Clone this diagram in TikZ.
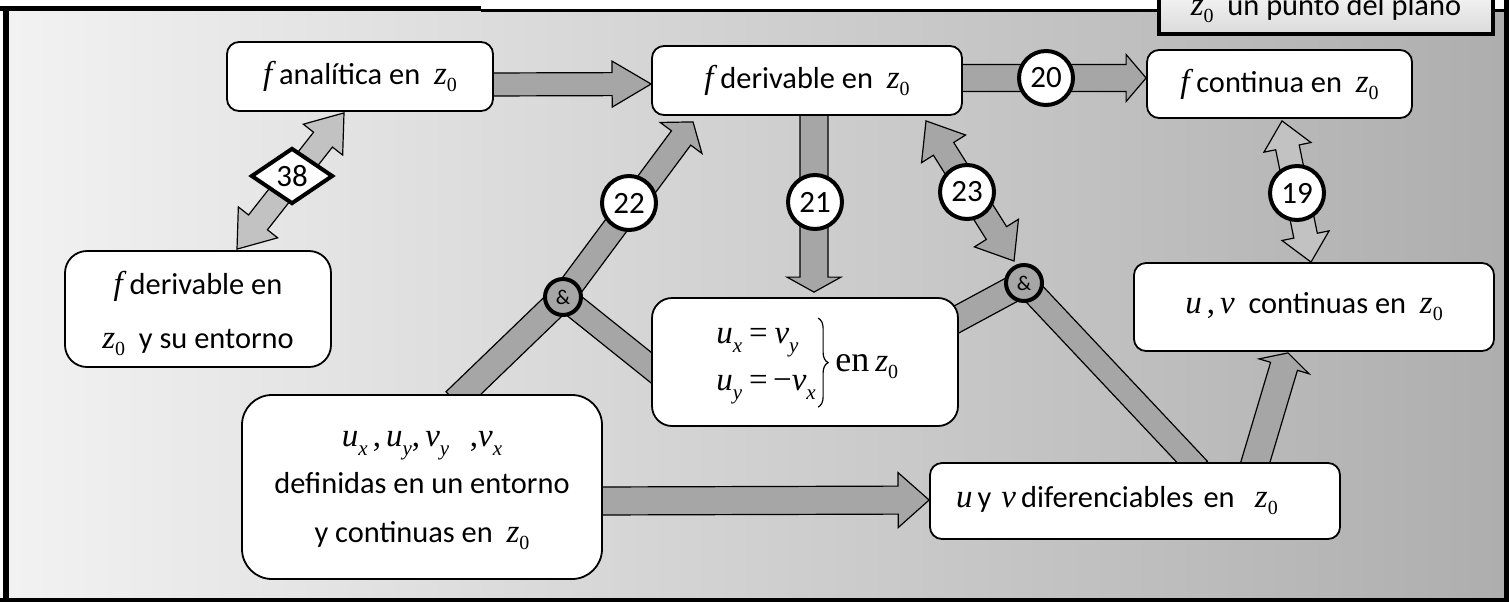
\documentclass[tikz,border=0pt]{standalone}
\usepackage{fontspec}
\setmainfont{Carlito}
\newfontfamily\tnr{Liberation Serif}
\usetikzlibrary{calc,shapes.geometric,decorations.pathreplacing}
\pgfdeclarelayer{bgl}
\pgfdeclarelayer{arl}
\pgfsetlayers{bgl,arl,main}
\definecolor{arrgray}{HTML}{A6A6A6}
\definecolor{arrlight}{HTML}{C2C2C2}
\definecolor{bgleft}{HTML}{F2F2F2}
\definecolor{bgright}{HTML}{AEAEAE}
\definecolor{legtop}{HTML}{FAFAFA}
\definecolor{legbot}{HTML}{DADADA}
\newcommand\mi[1]{{\tnr\itshape\fontsize{16.5}{18}\selectfont #1}}
\newcommand\tm[1]{{\tnr\fontsize{16.5}{18}\selectfont #1}}
\newcommand\sbz[1]{\raisebox{-3.5pt}{\tnr\fontsize{10}{11}\selectfont #1}}
\newcommand\sbu[1]{\raisebox{-4.5pt}{\tnr\itshape\fontsize{10.5}{11}\selectfont #1}}
\newcommand\zo{\mi{z}\sbz{0}}
% single block arrow: from, to, half shaft, half head, head length, fill
\newcommand\barr[6]{%
  \coordinate (bh) at ($(#2)!#5!(#1)$);
  \draw[blockline, fill=#6] ($(#1)!#3!90:(#2)$) -- ($(bh)!#3!90:(#2)$) -- ($(bh)!#4!90:(#2)$) -- (#2)
    -- ($(bh)!#4!-90:(#2)$) -- ($(bh)!#3!-90:(#2)$) -- ($(#1)!#3!-90:(#2)$) -- cycle;}
% double block arrow
\newcommand\darr[6]{%
  \coordinate (dha) at ($(#1)!#5!(#2)$);
  \coordinate (dhb) at ($(#2)!#5!(#1)$);
  \draw[blockline, fill=#6] (#1) -- ($(dha)!#4!90:(#2)$) -- ($(dha)!#3!90:(#2)$) -- ($(dhb)!#3!90:(#2)$)
    -- ($(dhb)!#4!90:(#2)$) -- (#2) -- ($(dhb)!#4!-90:(#2)$) -- ($(dhb)!#3!-90:(#2)$)
    -- ($(dha)!#3!-90:(#2)$) -- ($(dha)!#4!-90:(#2)$) -- cycle;}
% shaft only
\newcommand\sarr[4]{%
  \draw[blockline, fill=#4] ($(#1)!#3!90:(#2)$) -- ($(#2)!#3!-90:(#1)$) -- ($(#2)!#3!90:(#1)$) -- ($(#1)!#3!-90:(#2)$) -- cycle;}
\tikzset{
  blockline/.style={draw=black, line width=0.6pt, line join=miter},
  box/.style={draw, line width=0.9pt, fill=white, rounded corners=6pt, inner sep=0pt, align=center, font=\fontsize{15.2}{18}\selectfont},
  num/.style={circle, draw, line width=2pt, fill=white, minimum size=27pt, inner sep=0pt, font=\fontsize{15.5}{18}\selectfont},
  andnode/.style={circle, draw, line width=2pt, fill=arrgray, minimum size=18pt, inner sep=0pt, font=\fontsize{10.5}{12}\selectfont},
  dia/.style={diamond, draw, line width=2pt, fill=white, minimum width=41pt, minimum height=28pt, inner sep=0pt, font=\fontsize{15.5}{18}\selectfont},
  txt/.style={inner sep=0pt, align=center, font=\fontsize{15.2}{18}\selectfont},
  plain/.style={inner sep=0pt, font=\fontsize{15.2}{18}\selectfont},
  bracestyle/.style={decorate, decoration={brace, amplitude=5pt}, line width=0.6pt},
  legendbox/.style={draw, line width=2pt, top color=legtop, bottom color=legbot, minimum width=167pt, minimum height=25pt, inner sep=0pt, font=\fontsize{15.2}{18}\selectfont}
}
\begin{document}
\begin{tikzpicture}[x=0.5pt,y=-0.5pt]
\useasboundingbox (0,0) rectangle (1509,601);
\begin{pgfonlayer}{bgl}
\shade[left color=bgleft, right color=bgright] (9,11) rectangle (1504,598);
\end{pgfonlayer}
% frame
\draw[line width=2.8pt] (6,6) -- (6,601);
\draw[line width=2.5pt] (0,8.5) -- (481,8.5);
\draw[line width=1.4pt] (481,10.5) -- (1509,10.5);
\draw[line width=2pt] (0,599.5) -- (1509,599.5);
\draw[line width=2.6pt] (1506.5,0) -- (1506.5,601);
% legend
\node[legendbox] (leg) at (1326,9) {\zo\ \ un punto del plano};
% boxes
\node[box, minimum width=133pt, minimum height=34.5pt] (n1) at (360,76.5) {\mi{f} analítica en\ \ \zo};
\node[box, minimum width=155pt, minimum height=34.5pt] (n2) at (807,80.5) {\mi{f} derivable en\ \ \zo};
\node[box, minimum width=132.5pt, minimum height=34pt] (n3) at (1279.5,84) {\mi{f} continua en\ \ \zo};
\node[box, minimum width=133pt, minimum height=58pt, rounded corners=11pt] (n4) at (198,309) {};
\node[txt] (t4) at (198,313) {\mi{f} derivable en\\[9pt]\zo\ \ y su entorno};
\node[box, minimum width=153pt, minimum height=64pt, rounded corners=10pt] (n5) at (805,362) {};
\node[box, minimum width=180pt, minimum height=44pt] (n6) at (1314,307) {\mi{u}\,\tm{,}\,\mi{v}\ \ continuas en\ \ \zo};
\node[box, minimum width=180pt, minimum height=92pt, rounded corners=15pt] (n7) at (422,487) {};
\node[txt] (t7) at (422,491) {\mi{u}\sbu{x}\,\tm{,}\,\mi{u}\sbu{y}\tm{,}\,\mi{v}\sbu{y}\ \ \ \tm{,}\mi{v}\sbu{x}\\[5.5pt]definidas en un entorno\\[6.5pt]y continuas en\ \ \zo};
\node[box, text width=179pt, inner xsep=13pt, minimum height=38pt, align=left] (n8) at (1135,501) {\mi{u}\,y\ \mi{v}\,diferenciables en\ \ \zo};
% Cauchy-Riemann content
\node[plain, anchor=west] (cr1) at (716,343) {\mi{u}\sbu{x}\ \tm{=}\ \mi{v}\sbu{y}};
\node[plain, anchor=west] (cr2) at (716,390) {\mi{u}\sbu{y}\ \tm{=\,−}\mi{v}\sbu{x}};
\node[plain, anchor=west] (cren) at (835,367) {{\tnr\fontsize{18}{20}\selectfont en\,}\zo};
\coordinate (brt) at ($(n5.north west)+(167,21)$);
\coordinate (brb) at ($(n5.north west)+(167,110)$);
\draw[bracestyle] (brt) -- (brb);
% junctions
\node[andnode] (andL) at (563,297) {\&};
\node[andnode] (andR) at (1024,283) {\&};
% labels
\node[num] (c20) at (1046,78) {20};
\node[num] (c21) at (815,202) {21};
\node[num] (c22) at (629,203) {22};
\node[num] (c23) at (967,192) {23};
\node[num] (c19) at (1297,193) {19};
\node[dia] (d38) at (292,176) {38};
% arrows
\begin{pgfonlayer}{arl}
\coordinate (a1s) at ($(n1.east)+(-10,8)$);
\coordinate (a1e) at ($(n2.west)+(0,3.5)$);
\barr{a1s}{a1e}{5.75pt}{11.5pt}{19.5pt}{arrgray}
\coordinate (a20s) at ($(n2.east)+(-10,-2.5)$);
\coordinate (a20e) at ($(n3.west)+(0,-6)$);
\barr{a20s}{a20e}{6.75pt}{11.75pt}{10pt}{arrgray}
\coordinate (a21s) at ($(n2.south)+(7,-10)$);
\coordinate (a21e) at ($(n5.north)+(9,-5)$);
\barr{a21s}{a21e}{7pt}{13.5pt}{7.5pt}{arrgray}
\coordinate (a78s) at ($(n7.east)+(-10,14)$);
\coordinate (a78e) at ($(n8.west)+(0,-1)$);
\barr{a78s}{a78e}{7pt}{13.75pt}{15.5pt}{arrgray}
\coordinate (a86s) at ($(n8.north)+(118,8)$);
\coordinate (a86e) at ($(n6.south)+(-26,1)$);
\barr{a86s}{a86e}{7pt}{13pt}{7pt}{arrgray}
\coordinate (s7L) at ($(n7.north)+(33,7)$);
\sarr{s7L}{andL}{6.5pt}{arrgray}
\coordinate (a22e) at ($(n2.south)+(-114,6)$);
\barr{andL}{a22e}{6pt}{13pt}{10pt}{arrgray}
\coordinate (sL5) at ($(n5.west)+(8,12)$);
\sarr{andL}{sL5}{6pt}{arrgray}
\coordinate (sR5) at ($(n5.east)+(-9,-39)$);
\sarr{andR}{sR5}{6.5pt}{arrgray}
\coordinate (sR8) at ($(n8.north)+(64,7)$);
\sarr{andR}{sR8}{5.75pt}{arrgray}
\coordinate (a23s) at ($(n2.south)+(119,5)$);
\coordinate (a23e) at ($(andR)+(-10,-22)$);
\darr{a23s}{a23e}{6pt}{13pt}{16.5pt}{arrgray}
\coordinate (a38s) at ($(n1.south)+(-16,1)$);
\coordinate (a38e) at ($(n4.north)+(39,-1)$);
\darr{a38s}{a38e}{6pt}{12.5pt}{17pt}{arrlight}
\coordinate (a19s) at ($(n3.south)+(2.5,2)$);
\coordinate (a19e) at ($(n6.north)+(-3,0)$);
\darr{a19s}{a19e}{6pt}{12pt}{13.5pt}{arrlight}
\end{pgfonlayer}
\end{tikzpicture}
\end{document}
